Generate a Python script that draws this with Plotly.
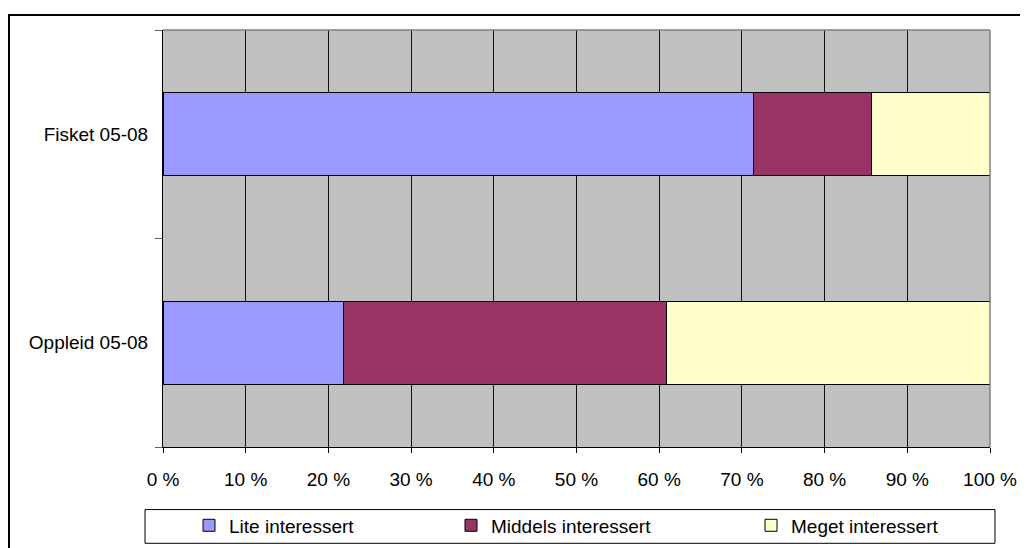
import plotly.graph_objects as go

# data
categories = ["Oppleid 05-08", "Fisket 05-08"]
lite = [21.8, 71.4]
middels = [39.1, 14.3]
meget = [39.1, 14.3]
series_names = ["Lite interessert", "Middels interessert", "Meget interessert"]
tick_vals = [0, 10, 20, 30, 40, 50, 60, 70, 80, 90, 100]
tick_text = [f"{v} %" for v in tick_vals]

colors = ["#9999FF", "#993366", "#FFFFCC"]
font = dict(family="Liberation Sans, Arial, sans-serif", size=19, color="black")

fig = go.Figure()
for name, vals, col, leg in zip(series_names, [lite, middels, meget], colors,
                                ["legend", "legend2", "legend3"]):
    fig.add_trace(
        go.Bar(
            y=categories,
            x=vals,
            name=name,
            orientation="h",
            width=0.4,
            marker=dict(color=col, line=dict(color="black", width=1)),
            legend=leg,
            showlegend=True,
        )
    )

leg_common = dict(
    orientation="h",
    yanchor="middle",
    y=(450 - 529) / 420,
    xanchor="left",
    font=font,
    bgcolor="rgba(0,0,0,0)",
    borderwidth=0,
)

# page is drawn with an 8px offset, plot area lands at 163..990 x 30..450
fig.update_layout(
    width=1028,
    height=548,
    barmode="stack",
    showlegend=True,
    plot_bgcolor="#C0C0C0",
    paper_bgcolor="white",
    font=font,
    margin=dict(l=155, r=46, t=22, b=106),
    legend=dict(leg_common, x=(189 - 163) / 827),
    legend2=dict(leg_common, x=(451 - 163) / 827),
    legend3=dict(leg_common, x=(751 - 163) / 827),
    xaxis=dict(
        range=[0, 100],
        tickmode="array",
        tickvals=tick_vals,
        ticktext=tick_text,
        showgrid=True,
        gridcolor="#101010",
        gridwidth=1,
        showline=True,
        linecolor="black",
        linewidth=1,
        ticks="outside",
        ticklen=5,
        tickcolor="black",
        ticklabelstandoff=10,
        zeroline=False,
    ),
    yaxis=dict(
        categoryorder="array",
        categoryarray=categories,
        range=[-0.5, 1.5],
        showgrid=False,
        showline=True,
        linecolor="black",
        linewidth=1,
        ticks="outside",
        tickson="boundaries",
        ticklen=7,
        tickcolor="#606060",
        ticklabelstandoff=10,
    ),
    shapes=[
        # plot area top and right borders
        dict(type="line", xref="paper", yref="paper", x0=0, x1=1, y0=1, y1=1,
             line=dict(color="#808080", width=1.5)),
        dict(type="line", xref="paper", yref="paper", x0=1, x1=1, y0=0, y1=1,
             line=dict(color="#808080", width=1.5)),
        # legend box
        dict(type="rect", xref="paper", yref="paper",
             x0=(145 - 163) / 827, x1=(995 - 163) / 827,
             y0=(450 - 547) / 420, y1=(450 - 513) / 420,
             line=dict(color="black", width=1)),
        # outer chart border
        dict(type="rect", xref="paper", yref="paper",
             x0=(9 - 163) / 827, x1=(1040 - 163) / 827,
             y0=(450 - 560) / 420, y1=(450 - 15) / 420,
             line=dict(color="black", width=2)),
    ],
)

fig.write_html("out.html")
